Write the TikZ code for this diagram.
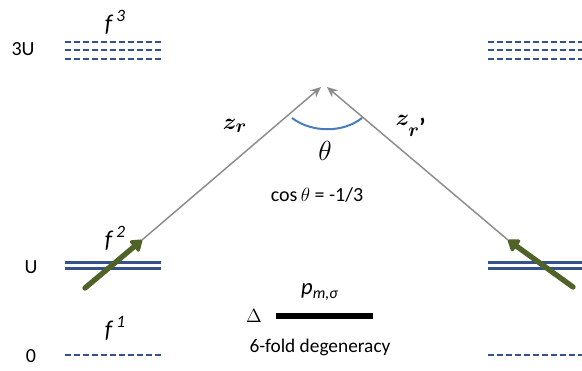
\documentclass[tikz,border=0pt]{standalone}
\usepackage{fontspec}
\setmainfont{Carlito}
\usepackage{bm}
\usetikzlibrary{arrows.meta}
\definecolor{lvl}{HTML}{34538C}
\definecolor{arcblue}{HTML}{4A7EBB}
\definecolor{olive}{HTML}{4F6228}
\definecolor{vecgray}{HTML}{8C8C8C}
\tikzset{
  lab/.style={inner sep=0pt, font=\fontsize{15}{18}\selectfont},
  fl/.style={inner sep=0pt, font=\fontsize{18}{21}\selectfont\itshape},
  dashlvl/.style={draw=lvl, line width=1.5pt, dash pattern=on 4.5pt off 2.25pt},
  solidlvl/.style={draw=lvl, line width=1.6pt},
  vec/.style={draw=vecgray, line width=1.1pt, -{Stealth[length=8pt,width=7pt]}},
  hop/.style={draw=olive, line width=4pt, -{Triangle[length=9pt,width=12pt,round]}, line cap=round},
  anglearc/.style={draw=arcblue, line width=1.5pt},
}
\newcommand{\fsup}[1]{\raisebox{0.42em}{\fontsize{13}{13}\selectfont\itshape #1}}
\begin{document}
\begin{tikzpicture}[x=0.75pt,y=-0.75pt]
\useasboundingbox (0,0) rectangle (582,371);
% energy labels
\node[lab] (l3U) at (23,49) {3U};
\node[lab] (lU) at (31,267) {U};
\node[lab] (l0) at (31,356) {0};
\node[fl] (f3) at (115,22) {f\,\fsup{3}};
\node[fl] (f2) at (115,238) {f\,\fsup{2}};
\node[fl] (f1) at (115,328) {f\,\fsup{1}};
% left levels
\draw[dashlvl] (65,42) -- (161,42);
\draw[dashlvl] (65,50) -- (161,50);
\draw[dashlvl] (65,58.5) -- (161,58.5);
\draw[solidlvl] (65,262.5) -- (161,262.5);
\draw[solidlvl] (65,268.5) -- (161,268.5);
\draw[dashlvl] (65,355) -- (161,355);
% right levels
\draw[dashlvl] (488,42) -- (582,42);
\draw[dashlvl] (488,50) -- (582,50);
\draw[dashlvl] (488,58.5) -- (582,58.5);
\draw[solidlvl] (488,262.5) -- (582,262.5);
\draw[solidlvl] (488,268.5) -- (582,268.5);
\draw[dashlvl] (488,355) -- (582,355);
% vectors
\coordinate (apexL) at (321,87);
\coordinate (apexR) at (327,87);
\coordinate (startL) at (142,240);
\coordinate (startR) at (508,240);
\coordinate (tailL) at (85,288);
\coordinate (tailR) at (573,287);
\draw[vec] (startL) -- (apexL);
\draw[vec] (startR) -- (apexR);
\draw[hop] (tailL) -- (startL);
\draw[hop] (tailR) -- (startR);
% angle arc
\draw[anglearc] (292,118) .. controls (312,133) and (343,133) .. (362,118);
\node[lab] (zr) at (235,126) {\fontsize{19}{22}\selectfont$\bm{z}_{\bm{r}}$};
\node[lab] (zrp) at (411,126) {\fontsize{19}{22}\selectfont$\bm{z}_{\bm{r}\textnormal{\bfseries ’}}$};
\node[lab] (theta) at (325,151) {\fontsize{20}{24}\selectfont$\theta$};
\node[lab] (cos) at (317,195) {cos\,$\theta$ = -1/3};
% p level
\node[lab] (delta) at (254,316) {\fontsize{14}{16}\selectfont$\Delta$};
\draw[line width=3.8pt] (276,316) -- (373,316);
\node[lab] (pm) at (320,292) {\fontsize{17}{20}\selectfont\textit{p}\textsubscript{\textit{m,σ}}};
\node[lab, font=\fontsize{14.5}{17}\selectfont] (deg) at (320,347) {6-fold degeneracy};
\end{tikzpicture}
\end{document}
